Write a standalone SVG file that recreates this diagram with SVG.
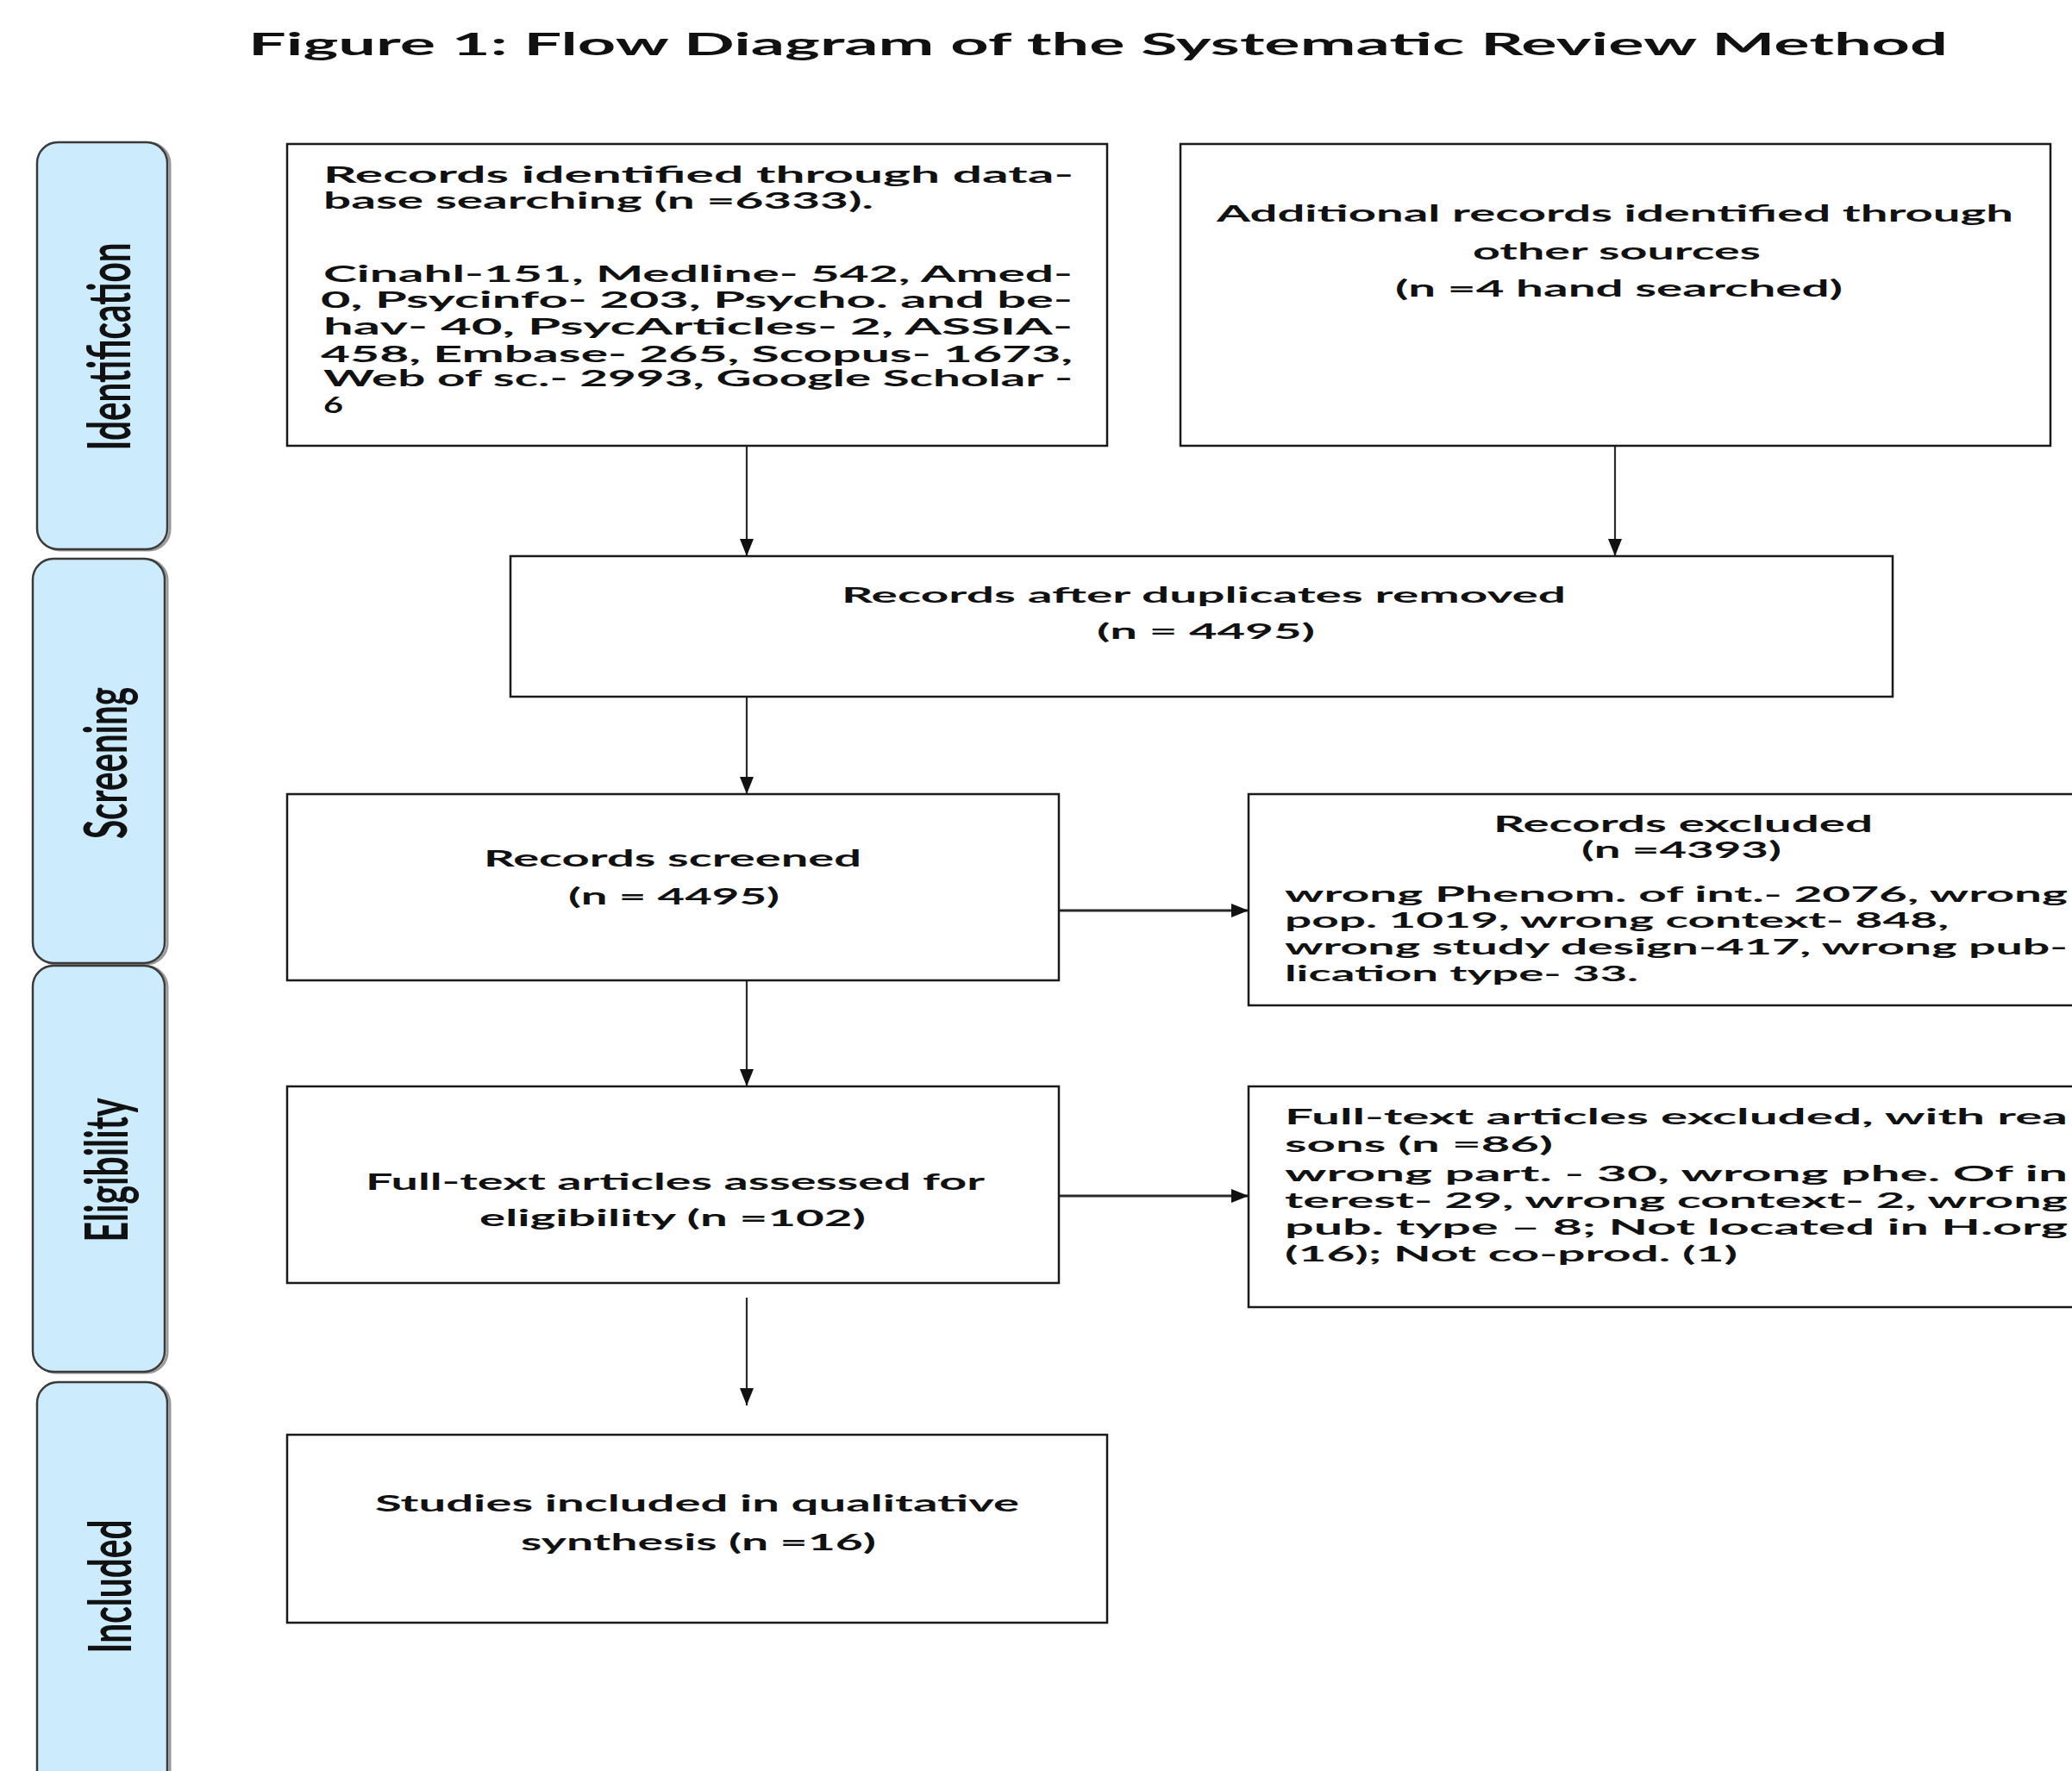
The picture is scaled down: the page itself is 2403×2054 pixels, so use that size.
<svg xmlns="http://www.w3.org/2000/svg" width="2403" height="2054" viewBox="0 0 2403 2054">
<style>
.t{font-family:Lato,"Liberation Sans",Arial,sans-serif;font-weight:bold;fill:#111;}
.b{font-size:26px;}
.lane{fill:#CCEBFD;stroke:#3a3a3a;stroke-width:2.5;}
.laneSh{fill:none;stroke:#9a9a9a;stroke-width:3;}
.lt{font-size:68px;text-anchor:middle;}
.box{fill:#fff;stroke:#1a1a1a;stroke-width:2.5;}
.c{fill:none;stroke:#2a2a2a;stroke-width:2.2;}
.ch{fill:none;stroke:#2a2a2a;stroke-width:3.2;}
</style>
<defs>
<marker id="ah" markerUnits="userSpaceOnUse" markerWidth="22" markerHeight="18" refX="20" refY="8" orient="auto">
<path d="M0,0 L20,8 L0,16 Z" fill="#111"/>
</marker>
</defs>
<rect width="2403" height="2054" fill="#fff"/>

<text class="t" x="288" y="64" font-size="36" textLength="1971" lengthAdjust="spacingAndGlyphs">Figure 1: Flow Diagram of the Systematic Review Method</text>

<g id="lane-identification">
<rect class="laneSh" x="46" y="166" width="151" height="472" rx="24"/>
<rect class="lane" x="43" y="165" width="151" height="472" rx="24"/>
<text class="t lt" transform="translate(151,402) rotate(-90)" textLength="241" lengthAdjust="spacingAndGlyphs">Identification</text>
</g>
<g id="lane-screening">
<rect class="laneSh" x="41" y="649" width="153" height="469" rx="24"/>
<rect class="lane" x="38" y="648" width="153" height="469" rx="24"/>
<text class="t lt" transform="translate(147,885) rotate(-90)" textLength="176" lengthAdjust="spacingAndGlyphs">Screening</text>
</g>
<g id="lane-eligibility">
<rect class="laneSh" x="41" y="1121" width="153" height="471" rx="24"/>
<rect class="lane" x="38" y="1120" width="153" height="471" rx="24"/>
<text class="t lt" transform="translate(148,1357) rotate(-90)" textLength="167" lengthAdjust="spacingAndGlyphs">Eligibility</text>
</g>
<g id="lane-included">
<rect class="laneSh" x="46" y="1604" width="151" height="500" rx="24"/>
<rect class="lane" x="43" y="1603" width="151" height="500" rx="24"/>
<text class="t lt" transform="translate(152,1840) rotate(-90)" textLength="155" lengthAdjust="spacingAndGlyphs">Included</text>
</g>

<g id="connectors">
<line class="c" x1="866" y1="517" x2="866" y2="645" marker-end="url(#ah)"/>
<line class="c" x1="1873" y1="517" x2="1873" y2="645" marker-end="url(#ah)"/>
<line class="c" x1="866" y1="808" x2="866" y2="921" marker-end="url(#ah)"/>
<line class="c" x1="866" y1="1131" x2="866" y2="1260" marker-end="url(#ah)"/>
<line class="c" x1="866" y1="1505" x2="866" y2="1630" marker-end="url(#ah)"/>
<line class="ch" x1="1228" y1="1056" x2="1448" y2="1056" marker-end="url(#ah)"/>
<line class="ch" x1="1228" y1="1387" x2="1448" y2="1387" marker-end="url(#ah)"/>
</g>

<g id="node-db-records">
<rect class="box" x="333" y="167" width="951" height="350"/>
<text class="t b" x="375" y="212" textLength="870" lengthAdjust="spacingAndGlyphs">Records identified through data-</text>
<text class="t b" x="375" y="242" textLength="638" lengthAdjust="spacingAndGlyphs">base searching (n =6333).</text>
<text class="t b" x="375" y="327" textLength="869" lengthAdjust="spacingAndGlyphs">Cinahl-151, Medline- 542, Amed-</text>
<text class="t b" x="372" y="357" textLength="872" lengthAdjust="spacingAndGlyphs">0, Psycinfo- 203, Psycho. and be-</text>
<text class="t b" x="375" y="388" textLength="869" lengthAdjust="spacingAndGlyphs">hav- 40, PsycArticles- 2, ASSIA-</text>
<text class="t b" x="372" y="420" textLength="872" lengthAdjust="spacingAndGlyphs">458, Embase- 265, Scopus- 1673,</text>
<text class="t b" x="375" y="448" textLength="869" lengthAdjust="spacingAndGlyphs">Web of sc.- 2993, Google Scholar -</text>
<text class="t b" x="375" y="479" textLength="23" lengthAdjust="spacingAndGlyphs">6</text>
</g>

<g id="node-other-records">
<rect class="box" x="1369" y="167" width="1009" height="350"/>
<text class="t b" x="1411" y="257" textLength="924" lengthAdjust="spacingAndGlyphs">Additional records identified through</text>
<text class="t b" x="1708" y="301" textLength="334" lengthAdjust="spacingAndGlyphs">other sources</text>
<text class="t b" x="1618" y="344" textLength="519" lengthAdjust="spacingAndGlyphs">(n =4 hand searched)</text>
</g>

<g id="node-duplicates">
<rect class="box" x="592" y="645" width="1603" height="163"/>
<text class="t" font-size="24" x="976" y="699" textLength="840" lengthAdjust="spacingAndGlyphs">Records after duplicates removed</text>
<text class="t" font-size="24" x="1272" y="741" textLength="253" lengthAdjust="spacingAndGlyphs">(n = 4495)</text>
</g>

<g id="node-screened">
<rect class="box" x="333" y="921" width="895" height="216"/>
<text class="t b" x="561" y="1005" textLength="438" lengthAdjust="spacingAndGlyphs">Records screened</text>
<text class="t b" x="659" y="1049" textLength="245" lengthAdjust="spacingAndGlyphs">(n = 4495)</text>
</g>

<g id="node-excluded">
<path class="box" d="M2404,921 H1448 V1166 H2404"/>
<text class="t b" x="1732" y="965" textLength="440" lengthAdjust="spacingAndGlyphs">Records excluded</text>
<text class="t b" x="1834" y="995" textLength="232" lengthAdjust="spacingAndGlyphs">(n =4393)</text>
<text class="t" font-size="24" x="1490" y="1046" textLength="908" lengthAdjust="spacingAndGlyphs">wrong Phenom. of int.- 2076, wrong</text>
<text class="t" font-size="24" x="1490" y="1076" textLength="770" lengthAdjust="spacingAndGlyphs">pop. 1019, wrong context- 848,</text>
<text class="t" font-size="24" x="1490" y="1107" textLength="908" lengthAdjust="spacingAndGlyphs">wrong study design-417, wrong pub-</text>
<text class="t" font-size="24" x="1490" y="1138" textLength="410" lengthAdjust="spacingAndGlyphs">lication type- 33.</text>
</g>

<g id="node-fulltext-assessed">
<rect class="box" x="333" y="1260" width="895" height="228"/>
<text class="t b" x="424" y="1380" textLength="718" lengthAdjust="spacingAndGlyphs">Full-text articles assessed for</text>
<text class="t b" x="556" y="1422" textLength="448" lengthAdjust="spacingAndGlyphs">eligibility (n =102)</text>
</g>

<g id="node-fulltext-excluded">
<path class="box" d="M2404,1260 H1448 V1516 H2404"/>
<text class="t" font-size="24" x="1490" y="1304" textLength="908" lengthAdjust="spacingAndGlyphs">Full-text articles excluded, with rea</text>
<text class="t" font-size="24" x="1490" y="1336" textLength="311" lengthAdjust="spacingAndGlyphs">sons (n =86)</text>
<text class="t" font-size="24" x="1490" y="1370" textLength="908" lengthAdjust="spacingAndGlyphs">wrong part. - 30, wrong phe. Of in</text>
<text class="t" font-size="24" x="1490" y="1401" textLength="908" lengthAdjust="spacingAndGlyphs">terest- 29, wrong context- 2, wrong</text>
<text class="t" font-size="24" x="1490" y="1432" textLength="908" lengthAdjust="spacingAndGlyphs">pub. type – 8; Not located in H.org</text>
<text class="t" font-size="24" x="1490" y="1463" textLength="525" lengthAdjust="spacingAndGlyphs">(16); Not co-prod. (1)</text>
</g>

<g id="node-included">
<rect class="box" x="333" y="1664" width="951" height="218"/>
<text class="t b" x="435" y="1753" textLength="747" lengthAdjust="spacingAndGlyphs">Studies included in qualitative</text>
<text class="t b" x="604" y="1798" textLength="412" lengthAdjust="spacingAndGlyphs">synthesis (n =16)</text>
</g>
</svg>
